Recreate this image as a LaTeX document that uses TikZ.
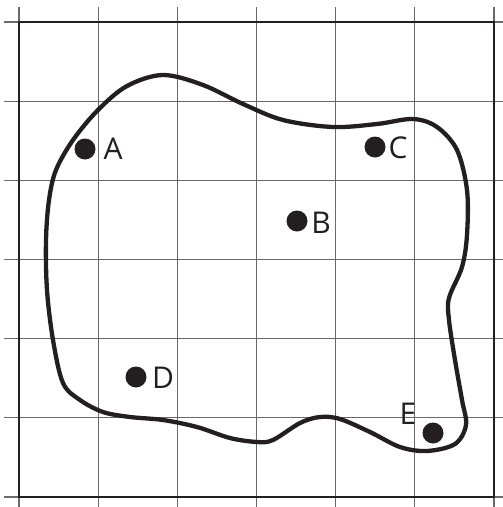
\documentclass[tikz,border=0pt]{standalone}
\usepackage{fontspec}
\setmainfont{Open Sans}
\definecolor{ink}{HTML}{231F20}
\definecolor{gridgray}{HTML}{6A6A6A}
\begin{document}
\begin{tikzpicture}[x=1pt,y=-1pt,
  gridline/.style={draw=gridgray,line width=1.3pt},
  border/.style={draw=ink,line width=2.6pt},
  blob/.style={draw=ink,line width=4.3pt,line join=round},
  dot/.style={circle,fill=ink,inner sep=0pt,minimum size=21pt},
  lbl/.style={font=\fontsize{30}{36}\selectfont,text=ink,inner sep=0pt}]
\useasboundingbox (0,0) rectangle (503,507);
\foreach \i in {0,...,6}{
  \draw[gridline] ({19+\i*79.167},7) -- ({19+\i*79.167},510);
  \draw[gridline] (4,{22+\i*79.167}) -- (506,{22+\i*79.167});
}
\draw[border] (19,22) rectangle (494,497);
\draw[blob] plot[smooth cycle,tension=0.55] coordinates {
 (163,75) (203,85) (243,104) (283,120) (333,127) (377,124) (413,119) (437,127)
 (457,150) (467,190) (467,235) (462,267) (449,298) (449,320) (455,360) (462,400)
 (466,425) (455,444) (427,451) (400,447) (370,432) (340,419) (320,417) (300,423)
 (273,440) (257,442) (230,438) (197,427) (163,420) (130,417) (103,412) (80,400)
 (63,383) (53,340) (47,290) (46,240) (49,200) (56,170) (73,140) (98,110) (127,86)};
\node[dot] (A) at (85,149) {};
\node[dot] (B) at (297,221) {};
\node[dot] (C) at (375,147) {};
\node[dot] (D) at (136,377) {};
\node[dot] (E) at (433,433) {};
\node[lbl] (lA) at (113,149) {A};
\node[lbl] (lB) at (321,223) {B};
\node[lbl] (lC) at (398,148) {C};
\node[lbl] (lD) at (163,378) {D};
\node[lbl] (lE) at (408,414) {E};
\end{tikzpicture}
\end{document}
